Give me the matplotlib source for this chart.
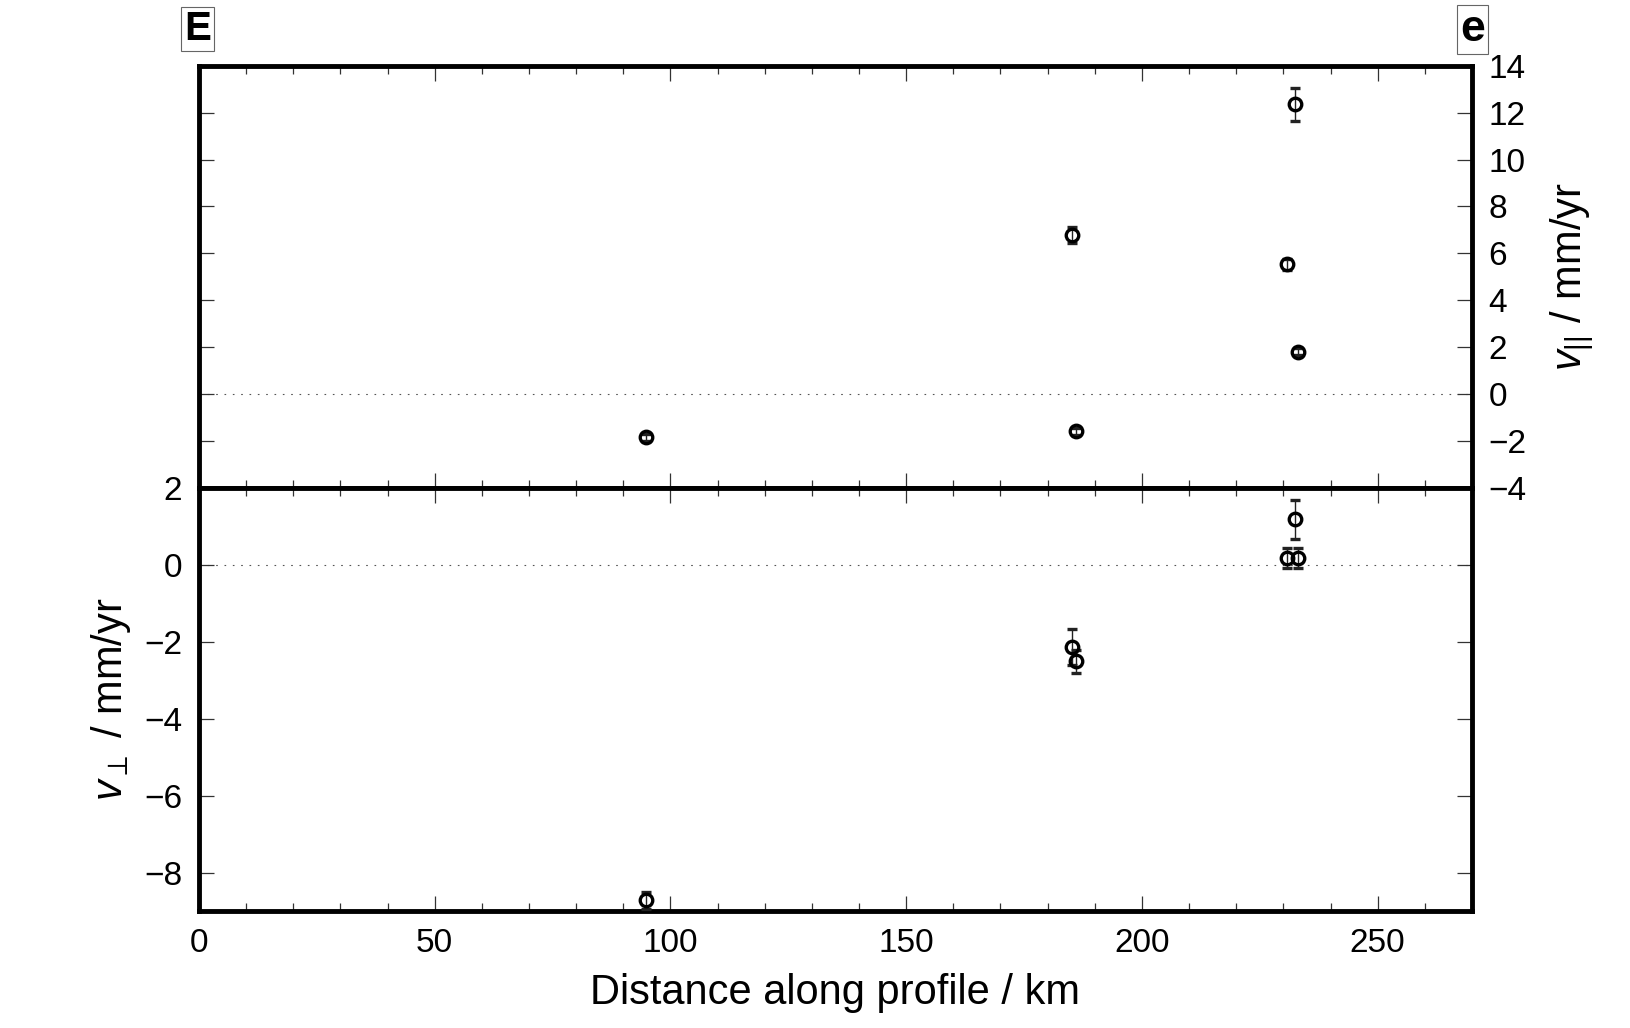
import matplotlib.pyplot as plt
from matplotlib.ticker import MultipleLocator

plt.rcParams['font.family'] = ['Liberation Sans', 'DejaVu Sans']
plt.rcParams['mathtext.fontset'] = 'custom'
plt.rcParams['mathtext.rm'] = 'Liberation Sans'
plt.rcParams['mathtext.it'] = 'Liberation Sans:italic'
plt.rcParams['mathtext.fallback'] = 'stixsans'

# station distance along the profile (km) and velocities (mm/yr)
dist = [94.8, 185.1, 186.0, 232.4, 230.8, 233.1]
v_par = [-1.85, 6.78, -1.58, 12.35, 5.53, 1.80]
v_par_err = [0.15, 0.35, 0.15, 0.70, 0.25, 0.15]
v_perp = [-8.72, -2.14, -2.51, 1.18, 0.18, 0.18]
v_perp_err = [0.22, 0.47, 0.30, 0.50, 0.27, 0.27]

fig = plt.figure(figsize=(16.31, 10.28), dpi=100)
ax_top = fig.add_axes([0.122, 0.5254, 0.7805, 0.4106])
ax_bot = fig.add_axes([0.122, 0.1136, 0.7805, 0.4118])

pt_style = dict(fmt='o', mfc='none', mec='black', mew=2.4, ms=9.0,
                ecolor='#222222', elinewidth=1.0, capsize=3.4, capthick=0.9)

for ax, y, yerr in [(ax_top, v_par, v_par_err), (ax_bot, v_perp, v_perp_err)]:
    ax.axhline(0, color='#555555', lw=0.8, ls=(0, (1.5, 6)), zorder=1)
    ax.errorbar(dist, y, yerr=yerr, zorder=3, **pt_style)
    ax.set_xlim(0, 270)
    ax.xaxis.set_major_locator(MultipleLocator(50))
    ax.xaxis.set_minor_locator(MultipleLocator(10))
    ax.yaxis.set_major_locator(MultipleLocator(2))
    for s in ax.spines.values():
        s.set_linewidth(3.5)
    ax.tick_params(which='both', direction='in', top=True, bottom=True,
                   left=True, right=True, color='#333333', width=0.9,
                   labelsize=24, pad=12)
    ax.tick_params(which='major', length=10.5)
    ax.tick_params(which='minor', length=5.5)

ax_top.set_ylim(-4, 14)
ax_top.tick_params(labelbottom=False, labelleft=False, labelright=True)
ax_top.yaxis.set_label_position('right')
ax_top.set_ylabel(r'$v_{||}$ / mm/yr', fontsize=30, va='center')
ax_top.yaxis.set_label_coords(1.079, 0.5)

ax_bot.set_ylim(-9, 2)
ax_bot.set_ylabel(r'$v_{\perp}$ / mm/yr', fontsize=30, va='center')
ax_bot.yaxis.set_label_coords(-0.069, 0.5)
ax_bot.set_xlabel('Distance along profile / km', fontsize=30, va='center')
ax_bot.xaxis.set_label_coords(0.5, -0.193)

box = dict(boxstyle='square,pad=0.08', fc='white', ec='#666666', lw=0.8)
fig.text(0.1211, 0.9718, 'E', fontsize=29, fontweight='bold', ha='center', va='center', bbox=box)
fig.text(0.9028, 0.9713, 'e', fontsize=32, fontweight='bold', ha='center', va='center', bbox=box)

plt.savefig('out.png', dpi=100)
